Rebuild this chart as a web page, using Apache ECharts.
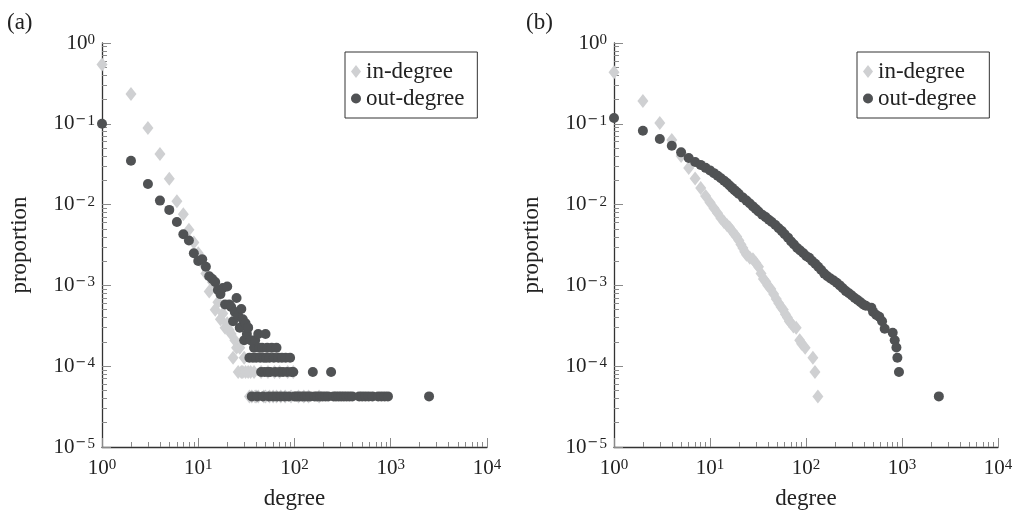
<!DOCTYPE html>
<html>
<head>
<meta charset="utf-8">
<script src="https://cdn.jsdelivr.net/npm/echarts@6/dist/echarts.min.js"></script>
<style>
html,body{margin:0;padding:0;background:#fff;}
#chart{width:1016px;height:510px;}
</style>
</head>
<body>
<div id="chart"></div>
<script>
// ---------- data (degree, proportion) ----------
const panelLabels = ['(a)', '(b)'];
const seriesNames = ['in-degree', 'out-degree'];
const xTickExponents = [0, 1, 2, 3, 4];
const yTickExponents = [-5, -4, -3, -2, -1, 0];

const inDegreeA = [
  [1,0.54],[2,0.234],[3,0.0886],[4,0.0423],[5,0.0209],[6,0.011],[7,0.0076],[8,0.0049],[9,0.0034],
  [10,0.0025],[11,0.0019],[12,0.0014],[13,0.00084],[14,0.0011],[15,0.0005],[16,0.00062],[17,0.00038],
  [18,0.00045],[19,0.0003],[20,0.00034],[21,0.00028],[22,0.00025],[23,0.000127],[24,0.00021],
  [25,0.000169],[26,0.0000847],[27,0.000169],[28,0.0000847],[29,0.0000847],[30,0.000127],
  [31,0.0000847],[33,0.0000847],[34,0.0000423],[35,0.0000847],[36,0.0000423],[38,0.0000847],
  [39,0.0000423],[40,0.0000423],[42,0.0000423],[45,0.0000847],[48,0.0000423],[50,0.0000423],
  [53,0.0000847],[55,0.0000423],[60,0.0000423],[62,0.0000847],[65,0.0000423],[70,0.0000847],
  [72,0.0000423],[80,0.0000423],[85,0.0000847],[92,0.0000423],[97,0.0000847],[110,0.0000423],
  [125,0.0000423],[140,0.0000423],[180,0.0000423]
];

const outDegreeA = [
  [1,0.1],[2,0.0349],[3,0.018],[4,0.0112],[5,0.0086],[6,0.0061],[7,0.0043],[8,0.0036],[9,0.0025],
  [10,0.002],[11,0.0021],[12,0.0017],[13,0.0013],[14,0.0012],[15,0.0011],[16,0.00088],[17,0.00078],
  [18,0.00093],[19,0.00058],[20,0.00097],[21,0.00058],[22,0.00054],[23,0.00036],[24,0.00047],
  [25,0.0007],[26,0.00042],[27,0.0003],[28,0.00051],[29,0.00038],[30,0.00021],[31,0.00034],
  [32,0.00025],[33,0.0003],[34,0.000127],[35,0.00021],[36,0.0000423],[37,0.000127],[38,0.000169],
  [39,0.00021],[40,0.000127],[41,0.0000423],[42,0.00025],[43,0.000169],[44,0.000127],[45,0.0000847],
  [46,0.000169],[47,0.0000423],[48,0.000127],[49,0.0000847],[50,0.00025],[51,0.000127],[52,0.000169],
  [53,0.0000847],[54,0.0000423],[55,0.000127],[56,0.0000847],[58,0.000169],[60,0.0000423],
  [61,0.000127],[63,0.0000847],[65,0.000169],[66,0.0000423],[68,0.000127],[70,0.0000847],
  [72,0.0000423],[74,0.000127],[76,0.0000847],[79,0.0000423],[81,0.000127],[84,0.0000847],
  [87,0.0000423],[90,0.000127],[93,0.0000847],[97,0.0000847],[100,0.0000423],[105,0.0000423],
  [112,0.0000423],[120,0.0000423],[128,0.0000423],[137,0.0000423],[146,0.0000423],[155,0.0000847],
  [162,0.0000423],[172,0.0000423],[184,0.0000423],[196,0.0000423],[210,0.0000423],[224,0.0000423],
  [240,0.0000847],[255,0.0000423],[270,0.0000423],[288,0.0000423],[306,0.0000423],[326,0.0000423],
  [348,0.0000423],[372,0.0000423],[398,0.0000423],[470,0.0000423],[505,0.0000423],[545,0.0000423],
  [590,0.0000423],[645,0.0000423],[740,0.0000423],[800,0.0000423],[865,0.0000423],[935,0.0000423],
  [2500,0.0000423]
];

const inDegreeB = [
  [1,0.433],[2,0.191],[3,0.102],[4,0.063],[5,0.04],[6,0.0284],[7,0.021],[8,0.016],[9,0.0128],
  [10,0.0106],[11,0.009],[12,0.0078],[13,0.0068],[14,0.0061],[15,0.0056],[16,0.0052],[17,0.0047],
  [18,0.0043],[19,0.004],[20,0.0036],[21,0.0032],[22,0.0029],[23,0.0026],[24,0.0024],[26,0.0022],
  [28,0.0021],[30,0.0019],[32,0.0017],[34,0.0014],[36,0.0012],[38,0.00112],[40,0.001],[43,0.0009],
  [46,0.00078],[49,0.00068],[52,0.0006],[55,0.00054],[58,0.0005],[61,0.00044],[64,0.0004],
  [67,0.00036],[70,0.00034],[74,0.00031],[79,0.0003],[86,0.00021],[90,0.00019],[98,0.000169],
  [118,0.000127],[124,0.0000847],[133,0.0000423]
];

const outDegreeB = [
  [1,0.118],[2,0.082],[3,0.065],[4,0.0536],[5,0.0443],[6,0.0377],[7,0.0336],[8,0.031],[9,0.0285],
  [10,0.0265],[11,0.0245],[12,0.0228],[13,0.0212],[14,0.0198],[15,0.0185],[16,0.0172],[17,0.0161],
  [18,0.0151],[19,0.0143],[20,0.0135],[22,0.0122],[24,0.0112],[26,0.0103],[28,0.0095],[30,0.0088],
  [32,0.0082],[35,0.0075],[38,0.007],[41,0.0065],[44,0.0061],[48,0.0056],[52,0.0051],[56,0.0047],
  [60,0.0043],[65,0.0039],[70,0.0035],[75,0.0032],[81,0.0029],[87,0.0027],[94,0.0025],[101,0.0023],
  [108,0.0022],[116,0.002],[125,0.00185],[134,0.0017],[144,0.00155],[155,0.0014],[167,0.0013],
  [180,0.00122],[194,0.00115],[209,0.00108],[225,0.001],[242,0.00092],[260,0.00085],[280,0.0008],
  [300,0.00075],[322,0.0007],[345,0.00066],[370,0.00062],[395,0.00058],[420,0.00056],[480,0.00053],
  [500,0.00047],[540,0.00043],[580,0.00041],[620,0.00036],[660,0.00029],[800,0.00026],[840,0.00021],
  [875,0.00017],[895,0.000127],[930,0.0000847],[2420,0.0000423]
];

// ---------- styling ----------
const FONT = 'Liberation Serif';
const IN_COLOR = '#cfd0d2';
const OUT_COLOR = '#505254';
const AXIS_COLOR = '#333333';
const TICK_COLOR = '#8a8a8a';
const TEXT_COLOR = '#222222';

function powLabel(v) {
  const e = Math.round(Math.log10(v));
  if (e < 0) return '{b|10}{m|\u2212}{s|' + (-e) + '}';
  return '{b|10}{s|' + e + '}';
}
const richLabel = {
  b: { fontFamily: FONT, fontSize: 21, lineHeight: 21, color: TEXT_COLOR },
  m: { fontFamily: 'DejaVu Serif', fontSize: 13, lineHeight: 8, verticalAlign: 'top', color: TEXT_COLOR, padding: [0, 1, 0, 1] },
  s: { fontFamily: FONT, fontSize: 15, lineHeight: 8, verticalAlign: 'top', color: TEXT_COLOR }
};

const grids = [
  { left: 102, top: 43, width: 385, height: 404, outerBoundsMode: 'none', containLabel: false },
  { left: 614, top: 43, width: 384, height: 404, outerBoundsMode: 'none', containLabel: false }
];

function xAxis(i) {
  return {
    type: 'log', logBase: 10, gridIndex: i,
    min: Math.pow(10, xTickExponents[0]), max: Math.pow(10, xTickExponents[xTickExponents.length - 1]),
    splitNumber: xTickExponents.length - 1,
    name: 'degree', nameLocation: 'middle', nameGap: 40,
    nameTextStyle: { fontFamily: FONT, fontSize: 23, color: TEXT_COLOR },
    axisLine: { show: true, lineStyle: { color: AXIS_COLOR, width: 1.3 } },
    axisTick: { show: true, inside: true, length: 9, lineStyle: { color: TICK_COLOR, width: 1 } },
    minorTick: { show: true, splitNumber: 9, length: 5, lineStyle: { color: TICK_COLOR, width: 1 } },
    splitLine: { show: false },
    minorSplitLine: { show: false },
    axisLabel: { formatter: powLabel, rich: richLabel, margin: 11, showMinLabel: true, showMaxLabel: true, hideOverlap: false }
  };
}
function yAxis(i) {
  return {
    type: 'log', logBase: 10, gridIndex: i,
    min: Math.pow(10, yTickExponents[0]), max: Math.pow(10, yTickExponents[yTickExponents.length - 1]),
    splitNumber: yTickExponents.length - 1,
    name: 'proportion', nameLocation: 'middle', nameGap: 71,
    nameTextStyle: { fontFamily: FONT, fontSize: 23, color: TEXT_COLOR },
    axisLine: { show: true, lineStyle: { color: AXIS_COLOR, width: 1.3 } },
    axisTick: { show: true, inside: true, length: 9, lineStyle: { color: TICK_COLOR, width: 1 } },
    minorTick: { show: true, splitNumber: 9, length: 5, lineStyle: { color: TICK_COLOR, width: 1 } },
    splitLine: { show: false },
    minorSplitLine: { show: false },
    axisLabel: { formatter: powLabel, rich: richLabel, margin: 7, showMinLabel: true, showMaxLabel: true, hideOverlap: false }
  };
}

function legend(left) {
  return {
    orient: 'vertical', left: left, top: 52,
    data: [{ name: seriesNames[0], icon: 'diamond' }, { name: seriesNames[1], icon: 'circle' }],
    itemWidth: 10, itemHeight: 13, itemGap: 4,
    padding: [8, 13, 8, 6],
    borderColor: AXIS_COLOR, borderWidth: 1, borderRadius: 0,
    backgroundColor: '#fff',
    selectedMode: false,
    textStyle: { fontFamily: FONT, fontSize: 23, lineHeight: 22, color: TEXT_COLOR }
  };
}

function inSeries(i, data) {
  return {
    type: 'scatter', name: seriesNames[0], xAxisIndex: i, yAxisIndex: i,
    symbol: 'diamond', symbolSize: [11, 14],
    itemStyle: { color: IN_COLOR, opacity: 1 },
    data: data, z: 2, silent: true, animation: false
  };
}
function outSeries(i, data) {
  return {
    type: 'scatter', name: seriesNames[1], xAxisIndex: i, yAxisIndex: i,
    symbol: 'circle', symbolSize: 10,
    itemStyle: { color: OUT_COLOR, opacity: 1 },
    data: data, z: 3, silent: true, animation: false
  };
}

const chart = echarts.init(document.getElementById('chart'), null, { renderer: 'canvas' });
chart.setOption({
  backgroundColor: '#ffffff',
  animation: false,
  title: [
    { text: panelLabels[0], left: 7, top: 11, padding: 0, textStyle: { fontFamily: FONT, fontSize: 23, fontWeight: 'normal', color: TEXT_COLOR } },
    { text: panelLabels[1], left: 526, top: 11, padding: 0, textStyle: { fontFamily: FONT, fontSize: 23, fontWeight: 'normal', color: TEXT_COLOR } }
  ],
  legend: [legend(345), legend(857)],
  grid: grids,
  xAxis: [xAxis(0), xAxis(1)],
  yAxis: [yAxis(0), yAxis(1)],
  series: [
    inSeries(0, inDegreeA), outSeries(0, outDegreeA),
    inSeries(1, inDegreeB), outSeries(1, outDegreeB)
  ]
});
</script>
</body>
</html>
